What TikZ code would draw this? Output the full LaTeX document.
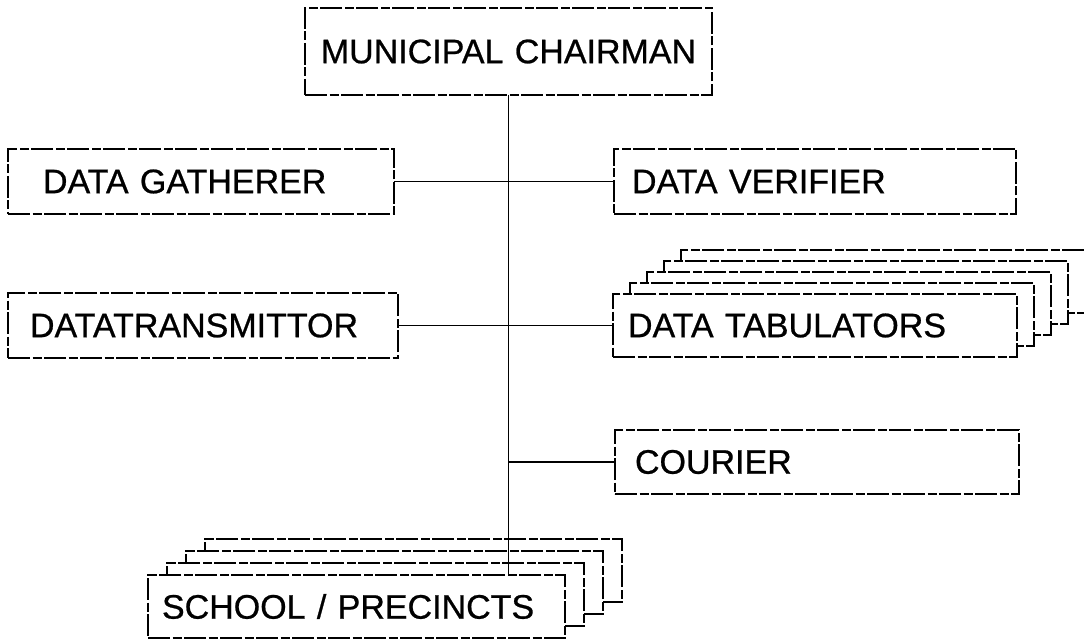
\documentclass[tikz,border=0pt]{standalone}
\usepackage{fontspec}
\setmainfont{Liberation Sans}
\newfontfamily\chartfont{Liberation Sans}[FakeBold=0.7]
\begin{document}
\begin{tikzpicture}[x=1pt,y=-1pt,
  box/.style={draw=black, fill=white, line width=1.2pt,
    dash pattern=on 22pt off 2.5pt on 9pt off 2.5pt,
    anchor=north west, inner ysep=0pt, outer sep=0pt,
    font=\chartfont\fontsize{34}{34}\selectfont, align=left},
  conn/.style={draw=black, line width=1.1pt}]
\useasboundingbox (0,0) rectangle (1084,639);
% chairman
\node[box, minimum width=407pt, minimum height=87pt, text width=377pt, inner xsep=15pt, align=center]
  (chair) at (305,8) {MUNICIPAL CHAIRMAN};
% gatherer / verifier
\node[box, minimum width=386pt, minimum height=65pt, text width=316pt, inner xsep=35pt]
  (gath) at (8,149) {DATA GATHERER};
\node[box, minimum width=402pt, minimum height=65pt, text width=366pt, inner xsep=18pt]
  (verif) at (614,149) {DATA VERIFIER};
% transmittor
\node[box, minimum width=390pt, minimum height=65pt, text width=346pt, inner xsep=22pt]
  (trans) at (8,293) {DATATRANSMITTOR};
% tabulators stack
\foreach \k in {4,3,2,1}{
  \node[box, minimum width=404pt, minimum height=63pt] (tabs\k) at ({613+17*\k},{294-11*\k}) {};
}
\node[box, minimum width=404pt, minimum height=63pt, text width=374pt, inner xsep=15pt]
  (tabs) at (613,294) {DATA TABULATORS};
% courier
\node[box, minimum width=404pt, minimum height=64pt, text width=364pt, inner xsep=20pt]
  (courier) at (615,430) {COURIER};
% school stack
\foreach \k in {3,2,1}{
  \node[box, minimum width=417pt, minimum height=63pt] (school\k) at ({148+19*\k},{575-12*\k}) {};
}
\node[box, minimum width=417pt, minimum height=63pt, text width=389pt, inner xsep=14pt]
  (school) at (148,575) {SCHOOL / PRECINCTS};
% connectors
\draw[conn] (chair.south) -- (chair.south |- school.north);
\draw[conn] (gath.east) -- (verif.west);
\draw[conn] (trans.east) -- (tabs.west);
\draw[conn] (chair.south |- courier.west) -- (courier.west);
\end{tikzpicture}
\end{document}
